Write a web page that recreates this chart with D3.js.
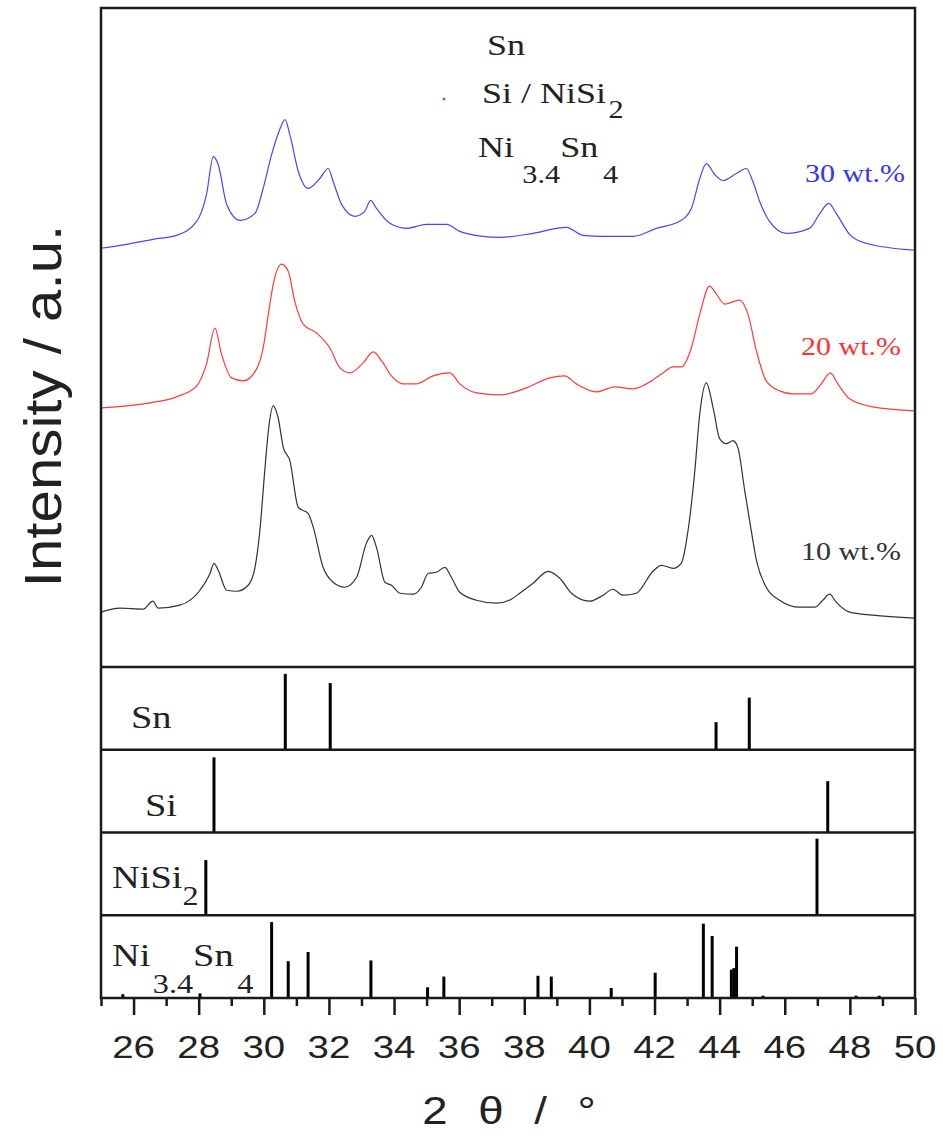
<!DOCTYPE html>
<html>
<head>
<meta charset="utf-8">
<script src="https://cdn.jsdelivr.net/npm/d3@7"></script>
<style>
  body { margin: 0; background: #fff; }
  svg { display: block; }
</style>
</head>
<body>
<svg id="chart"></svg>
<script>
// XRD patterns: [2theta, intensity (a.u.)]
const pattern10 = [
  [25.0, 55], [25.58, 59], [26.3, 58], [26.59, 66], [26.76, 59], [27.42, 62], [28.04, 77], [28.35, 94],
  [28.47, 104], [28.6, 97], [28.86, 77], [29.17, 76], [29.52, 82], [29.73, 100], [29.88, 137], [30.03, 197],
  [30.14, 237], [30.29, 262], [30.44, 250], [30.6, 220], [30.8, 207], [31.06, 160], [31.36, 154], [31.52, 140],
  [31.82, 100], [32.13, 85], [32.49, 80], [32.85, 90], [33.15, 124], [33.31, 132], [33.46, 120], [33.72, 85],
  [33.92, 82], [34.18, 74], [34.59, 73], [34.84, 80], [35.05, 94], [35.3, 95], [35.56, 100], [35.76, 90],
  [36.02, 75], [36.53, 67], [37.15, 64], [37.6, 68], [37.86, 74], [38.27, 84], [38.73, 96], [39.09, 89],
  [39.45, 74], [40.01, 66], [40.42, 72], [40.72, 78], [41.03, 72], [41.44, 74], [41.95, 96], [42.21, 102],
  [42.57, 99], [42.82, 104], [43.03, 137], [43.23, 194], [43.39, 254], [43.59, 285], [43.8, 260], [44.0, 229],
  [44.2, 224], [44.41, 227], [44.56, 220], [44.77, 177], [44.97, 137], [45.13, 107], [45.43, 80], [45.84, 67],
  [46.46, 60], [46.92, 60], [47.17, 67], [47.38, 73], [47.58, 65], [47.99, 55], [48.7, 52], [50.0, 49]
];
const pattern20 = [
  [25.0, 260], [25.79, 262], [26.5, 265], [27.32, 271], [27.94, 282], [28.24, 304], [28.5, 340], [28.7, 314],
  [29.01, 290], [29.37, 287], [29.78, 299], [29.98, 320], [30.14, 354], [30.29, 384], [30.55, 404], [30.75, 397],
  [30.95, 367], [31.21, 344], [31.62, 335], [32.03, 320], [32.34, 300], [32.64, 295], [33.05, 305], [33.36, 316],
  [33.62, 307], [33.92, 292], [34.28, 284], [34.69, 284], [35.2, 292], [35.71, 295], [36.02, 284], [36.53, 275],
  [37.25, 273], [38.07, 280], [38.78, 290], [39.24, 292], [39.6, 284], [40.21, 276], [40.78, 281], [41.34, 279],
  [41.75, 284], [42.26, 295], [42.57, 301], [42.82, 301], [43.13, 320], [43.39, 354], [43.69, 382], [43.9, 374],
  [44.15, 364], [44.61, 368], [44.87, 354], [45.13, 317], [45.43, 287], [45.84, 277], [46.25, 274], [46.81, 274],
  [47.12, 284], [47.4, 295], [47.63, 284], [47.99, 269], [48.7, 261], [50.0, 257]
];
const pattern30 = [
  [25.0, 420], [25.79, 424], [26.6, 429], [27.32, 433], [27.94, 447], [28.24, 474], [28.45, 512], [28.6, 504],
  [28.86, 464], [29.27, 448], [29.73, 455], [29.98, 480], [30.24, 514], [30.5, 540], [30.65, 549], [30.8, 534],
  [31.06, 497], [31.36, 480], [31.72, 490], [31.98, 500], [32.13, 487], [32.39, 464], [32.8, 452], [33.1, 457],
  [33.28, 468], [33.46, 460], [33.87, 445], [34.38, 440], [35.0, 444], [35.61, 444], [36.02, 437], [36.73, 432],
  [37.25, 431], [38.27, 435], [39.29, 441], [39.8, 433], [40.42, 432], [41.34, 432], [42.06, 440], [42.77, 447],
  [43.13, 460], [43.39, 490], [43.59, 505], [43.85, 494], [44.1, 488], [44.51, 495], [44.82, 500], [45.02, 487],
  [45.23, 467], [45.53, 447], [46.05, 435], [46.76, 440], [47.06, 454], [47.35, 465], [47.58, 455], [47.99, 434],
  [48.5, 425], [50.0, 418]
];

// reference sticks: [2theta, relative intensity]
const refSn = [[30.66, 99], [32.04, 87], [43.89, 36], [44.91, 68]];
const refSi = [[28.47, 98], [47.32, 67]];
const refNiSi2 = [[28.22, 72], [46.99, 100]];
const refNi34Sn4 = [
  [25.67, 5], [28.04, 6], [30.24, 99], [30.75, 48], [31.36, 60], [33.29, 49], [35.03, 14], [35.53, 28],
  [38.42, 29], [38.83, 28], [40.67, 13], [42.02, 33], [43.5, 97], [43.77, 81], [44.36, 37], [44.44, 39],
  [44.52, 67], [45.33, 3], [48.19, 3], [48.9, 3]
];

const xTicks = d3.range(25, 51, 1);
const xTickLabels = d3.range(26, 51, 2);

const W = 943, H = 1146;
const plotLeft = 101, plotRight = 915, plotTop = 8, mainBottom = 667, plotBottom = 998;
const panelH = (plotBottom - mainBottom) / 4;

const svg = d3.select("#chart").attr("width", W).attr("height", H);

const x = d3.scaleLinear().domain([25, 50]).range([plotLeft, plotRight]);
const y = d3.scaleLinear().domain([0, 660]).range([mainBottom, plotTop + 1]);

const sans = "'Liberation Sans', Arial, sans-serif";
const serif = "'Liberation Serif', 'Times New Roman', serif";
const stretch = 1.2;

// text helper; the figure's lettering is horizontally stretched.
// parts: {t, sub: baseline drop in px, dx}
function label(px, py, size, family, color, parts, anchor) {
  const t = svg.append("text")
    .attr("transform", "translate(" + px + "," + py + ") scale(" + stretch + ",1)")
    .attr("font-family", family)
    .attr("font-size", size)
    .attr("fill", color)
    .attr("text-anchor", anchor || "start");
  let shift = 0;
  parts.forEach(p => {
    const dy = (p.sub || 0) - shift;
    shift += dy;
    t.append("tspan")
      .attr("dy", dy)
      .attr("dx", p.dx || 0)
      .attr("font-size", p.sub ? size * 0.84 : size)
      .text(p.t);
  });
  return t;
}

// main panel curves
const line = d3.line().x(d => x(d[0])).y(d => y(d[1])).curve(d3.curveMonotoneX);
const series = [
  {data: pattern10, color: "#333333"},
  {data: pattern20, color: "#ff3b3b"},
  {data: pattern30, color: "#4646ff"}
];
svg.append("g").selectAll("path")
  .data(series)
  .join("path")
  .attr("d", d => line(d.data))
  .attr("fill", "none")
  .attr("stroke", d => d.color)
  .attr("stroke-width", 1.2);

// reference stick panels
const refs = [refSn, refSi, refNiSi2, refNi34Sn4];
refs.forEach((ref, i) => {
  const y0 = mainBottom + panelH * (i + 1);
  const yr = d3.scaleLinear().domain([0, 108]).range([y0, y0 - panelH]);
  svg.append("g").selectAll("line")
    .data(ref)
    .join("line")
    .attr("x1", d => x(d[0])).attr("x2", d => x(d[0]))
    .attr("y1", yr(0)).attr("y2", d => yr(d[1]))
    .attr("stroke", "#000")
    .attr("stroke-width", 3);
});

// frames
const frame = svg.append("g").attr("fill", "none").attr("stroke", "#1a1a1a");
frame.append("rect")
  .attr("x", plotLeft).attr("y", plotTop)
  .attr("width", plotRight - plotLeft).attr("height", plotBottom - plotTop)
  .attr("stroke-width", 2.5);
for (let i = 0; i < 4; i++) {
  const yy = mainBottom + panelH * i;
  frame.append("line").attr("x1", plotLeft).attr("x2", plotRight)
    .attr("y1", yy).attr("y2", yy).attr("stroke-width", 2.5);
}

// x axis
const xAxis = d3.axisBottom(x)
  .tickValues(xTicks)
  .tickSize(0)
  .tickFormat("");
const ax = svg.append("g").attr("transform", "translate(0," + plotBottom + ")").call(xAxis);
ax.select(".domain").remove();
ax.selectAll(".tick").append("line")
  .attr("y2", d => d % 2 === 0 ? 17 : 8)
  .attr("stroke", "#1a1a1a")
  .attr("stroke-width", 2.5);

xTickLabels.forEach(v => {
  label(x(v), 1058, 32, sans, "#222", [{t: String(v)}], "middle");
});

// axis titles
label(509, 1124, 38, sans, "#222", [{t: "2 \u03b8 / \u00b0"}], "middle")
  .attr("word-spacing", 15);
svg.append("text")
  .attr("transform", "translate(61,406) rotate(-90) scale(1.12,1)")
  .attr("font-family", sans)
  .attr("font-size", 52)
  .attr("fill", "#222")
  .attr("text-anchor", "middle")
  .text("Intensity / a.u.");

// curve labels
label(805, 182, 25, serif, "#3333ff", [{t: "30 wt.%"}]);
label(801, 355, 25, serif, "#ff3333", [{t: "20 wt.%"}]);
label(801, 560, 25, serif, "#333", [{t: "10 wt.%"}]);

// legend
svg.append("circle").attr("cx", 444).attr("cy", 99).attr("r", 1.5).attr("fill", "#4a7fd0");
label(487, 55, 30, serif, "#222", [{t: "Sn"}]);
label(482, 103, 30, serif, "#222", [{t: "Si / NiSi"}, {t: "2", sub: 15, dx: 2}]);
label(478, 157, 30, serif, "#222",
  [{t: "Ni"}, {t: "3.4", sub: 26, dx: 7}, {t: "Sn"}, {t: "4", sub: 26, dx: 4}]);

// panel labels
label(131, 728, 32, serif, "#222", [{t: "Sn"}]);
label(145, 816, 32, serif, "#222", [{t: "Si"}]);
label(112, 888, 32, serif, "#222", [{t: "NiSi"}, {t: "2", sub: 17}]);
label(112, 966, 32, serif, "#222",
  [{t: "Ni"}, {t: "3.4", sub: 27, dx: 2}, {t: "Sn"}, {t: "4", sub: 27, dx: 3}]);
</script>
</body>
</html>
